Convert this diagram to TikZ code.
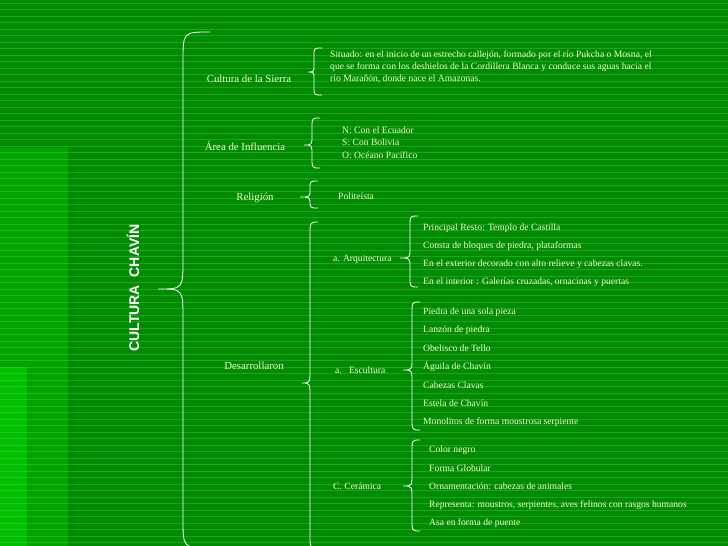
\documentclass[tikz,border=0pt]{standalone}
\usepackage{fontspec}
\setmainfont{Liberation Serif}
\setsansfont{Liberation Sans}
\definecolor{bggreen}{RGB}{0,140,0}
\definecolor{lightgreen}{RGB}{0,165,0}
\definecolor{palegreen}{RGB}{0,192,0}
\definecolor{stripe}{RGB}{130,205,130}
\definecolor{txtyellow}{RGB}{240,250,200}
\newcommand{\chbrace}[7]{% x-vertical, top, tip y, bottom, tip x, end x, radius
  \draw[bracestyle] (#6,#2) .. controls (#1,#2) .. (#1,#2+#7) -- (#1,#3-#7)
    .. controls (#1,#3) .. (#5,#3) .. controls (#1,#3) .. (#1,#3+#7)
    -- (#1,#4-#7) .. controls (#1,#4) .. (#6,#4);}
\begin{document}
\begin{tikzpicture}[x=1pt,y=-1pt,
    bracestyle/.style={draw=white,line width=0.8pt},
    head/.style={text=txtyellow,font=\fontsize{10.8}{12}\selectfont},
    item/.style={text=txtyellow,font=\fontsize{9.6}{11}\selectfont,anchor=west,inner sep=0pt},
    title/.style={text=white,font=\sffamily\bfseries\fontsize{14}{16}\selectfont,rotate=90}]
  \useasboundingbox (0,0) rectangle (728,546);
  % background
  \fill[bggreen] (0,0) rectangle (728,546);
  \fill[lightgreen] (0,148) rectangle (68,546);
  \fill[palegreen] (0,367) rectangle (27,546);
  \foreach \y in {3,9.5,...,546}
    \draw[stripe,line width=0.3pt,opacity=0.3] (0,\y) -- (728,\y);
  % title
  \node[title] (chavin) at (133,288) {CULTURA\ \ CHAVÍN};
  \chbrace{183}{32}{289}{548}{158}{210}{30}
  % first level
  \node[head] (sierra) at (249,79) {Cultura de la Sierra};
  \node[head] (area) at (245,146) {Área de Influencia};
  \node[head] (religion) at (255,198) {Religión};
  \node[head] (desarrollo) at (254,366) {Desarrollaron};
  \chbrace{314}{48}{72}{95}{308}{322}{8}
  \chbrace{312}{118}{145}{168}{304}{320}{10}
  \chbrace{310}{181}{197}{208}{300}{318}{8}
  \chbrace{310}{222}{383}{548}{302}{318}{14}
  % second level
  \node[item] (situado) at (330,55) {Situado: en el inicio de un estrecho callejón, formado por el río Pukcha o Mosna, el};
  \node[item] (situado2) at (330,67) {que se forma con los deshielos de la Cordillera Blanca y conduce sus aguas hacia el};
  \node[item] (situado3) at (330,79) {río Marañón, donde nace el Amazonas.};
  \node[item] (norte) at (342,130) {N: Con el Ecuador};
  \node[item] (sur) at (342,142) {S: Con Bolivia};
  \node[item] (oeste) at (342,155) {O: Océano Pacífico};
  \node[item] (politeista) at (338,196) {Politeísta};
  \node[item] (arqui) at (333,259) {a. Arquitectura};
  \node[item] (escul) at (335,370) {a.\ \ \ Escultura};
  \node[item] (cera) at (333,486) {C. Cerámica};
  \chbrace{410}{216}{258}{287}{400}{418}{10}
  \chbrace{412}{302}{370}{430}{403}{420}{12}
  \chbrace{412}{440}{486}{531}{403}{420}{12}
  % third level
  \foreach \t [count=\i] in {Principal Resto: Templo de Castilla,
      {Consta de bloques de piedra, plataformas},
      En el exterior decorado con alto relieve y cabezas clavas.,
      {En el interior : Galerías cruzadas, ornacinas y puertas}}
    \node[item] (arq\i) at (423,228+18*\i-18) {\t};
  \foreach \t [count=\i] in {Piedra de una sola pieza, Lanzón de piedra,
      Obelisco de Tello, Águila de Chavín, Cabezas Clavas, Estela de Chavín,
      Monolitos de forma moustrosa serpiente}
    \node[item] (esc\i) at (423,312+18.3*\i-18.3) {\t};
  \foreach \t [count=\i] in {Color negro, Forma Globular,
      Ornamentación: cabezas de animales,
      {Representa: moustros, serpientes, aves felinos con rasgos humanos},
      Asa en forma de puente}
    \node[item] (cer\i) at (429,450+18.3*\i-18.3) {\t};
\end{tikzpicture}
\end{document}
